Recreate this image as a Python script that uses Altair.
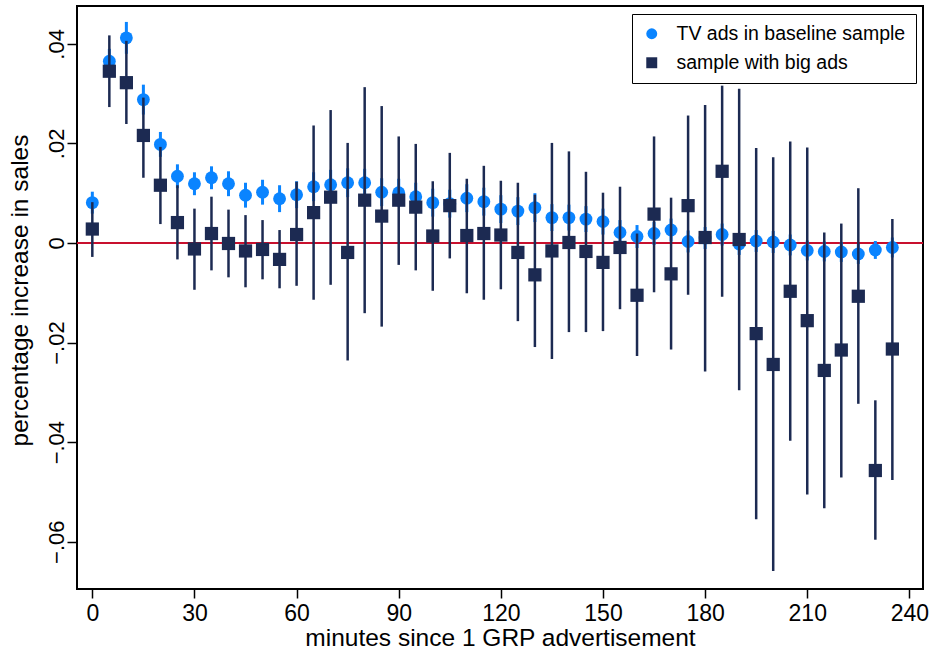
import altair as alt
import pandas as pd

# ---- data ----
minutes = list(range(0, 236, 5))

base_est = [0.0081, 0.0365, 0.0412, 0.0288, 0.0198, 0.0134, 0.0119, 0.0131, 0.0119, 0.0096,
            0.0102, 0.0089, 0.0097, 0.0113, 0.0117, 0.0121, 0.0121, 0.0102, 0.0101, 0.0093,
            0.0081, 0.0079, 0.0090, 0.0083, 0.0068, 0.0064, 0.0071, 0.0051, 0.0051, 0.0048,
            0.0043, 0.0021, 0.0013, 0.0019, 0.0026, 0.0003, 0.0010, 0.0017, -0.0002, 0.0004,
            0.0002, -0.0004, -0.0015, -0.0017, -0.0018, -0.0022, -0.0014, -0.0009]
base_lo = [0.0059, 0.0340, 0.0380, 0.0258, 0.0173, 0.0110, 0.0096, 0.0108, 0.0094, 0.0071,
           0.0077, 0.0062, 0.0070, 0.0084, 0.0087, 0.0092, 0.0093, 0.0074, 0.0073, 0.0065,
           0.0053, 0.0051, 0.0062, 0.0055, 0.0040, 0.0036, 0.0042, 0.0024, 0.0025, 0.0022,
           0.0017, -0.0004, -0.0010, -0.0004, 0.0003, -0.0019, -0.0012, -0.0005, -0.0024, -0.0018,
           -0.0020, -0.0025, -0.0035, -0.0037, -0.0038, -0.0042, -0.0032, -0.0029]
base_hi = [0.0103, 0.0390, 0.0444, 0.0318, 0.0223, 0.0158, 0.0142, 0.0154, 0.0144, 0.0121,
           0.0127, 0.0116, 0.0124, 0.0142, 0.0147, 0.0150, 0.0149, 0.0130, 0.0129, 0.0121,
           0.0109, 0.0107, 0.0118, 0.0111, 0.0096, 0.0092, 0.0100, 0.0078, 0.0077, 0.0074,
           0.0069, 0.0046, 0.0036, 0.0042, 0.0049, 0.0025, 0.0032, 0.0039, 0.0020, 0.0026,
           0.0024, 0.0017, 0.0005, 0.0003, 0.0002, -0.0002, 0.0004, 0.0011]

big_est = [0.0028, 0.0345, 0.0322, 0.0216, 0.0116, 0.0041, -0.0012, 0.0019, -0.0001, -0.0016,
           -0.0013, -0.0033, 0.0017, 0.0061, 0.0092, -0.0019, 0.0086, 0.0054, 0.0086, 0.0072,
           0.0014, 0.0075, 0.0015, 0.0019, 0.0016, -0.0019, -0.0064, -0.0016, 0.0001, -0.0017,
           -0.0039, -0.0009, -0.0105, 0.0058, -0.0062, 0.0075, 0.0011, 0.0144, 0.0007, -0.0182,
           -0.0244, -0.0097, -0.0156, -0.0256, -0.0215, -0.0107, -0.0457, -0.0213]
big_lo = [-0.0028, 0.0273, 0.0239, 0.0131, 0.0038, -0.0033, -0.0094, -0.0055, -0.0069, -0.0089,
          -0.0073, -0.0091, -0.0086, -0.0114, -0.0084, -0.0236, -0.0141, -0.0168, -0.0044, -0.0055,
          -0.0096, -0.0031, -0.0101, -0.0114, -0.0093, -0.0157, -0.0209, -0.0233, -0.0179, -0.0179,
          -0.0177, -0.0133, -0.0227, -0.0099, -0.0214, -0.0104, -0.0258, -0.0108, -0.0296, -0.0555,
          -0.0659, -0.0397, -0.0505, -0.0533, -0.0471, -0.0323, -0.0596, -0.0476]
big_hi = [0.0082, 0.0417, 0.0406, 0.0292, 0.0193, 0.0116, 0.0069, 0.0093, 0.0067, 0.0056,
          0.0046, 0.0026, 0.0123, 0.0236, 0.0267, 0.0201, 0.0313, 0.0275, 0.0214, 0.0199,
          0.0124, 0.0181, 0.0129, 0.0155, 0.0125, 0.0121, 0.0097, 0.0201, 0.0184, 0.0143,
          0.0101, 0.0113, 0.0019, 0.0214, 0.0091, 0.0256, 0.0277, 0.0316, 0.0310, 0.0191,
          0.0172, 0.0204, 0.0192, 0.0021, 0.0039, 0.0110, -0.0316, 0.0048]

series_names = ["TV ads in baseline sample", "sample with big ads"]
series_colors = ["#0a84ff", "#1c2a52"]
series_shapes = ["circle", "square"]

x_ticks = [0, 30, 60, 90, 120, 150, 180, 210, 240]
y_ticks = [-0.06, -0.04, -0.02, 0, 0.02, 0.04]

# ---- tables ----
base_df = pd.DataFrame({"minutes": minutes, "est": base_est, "lo": base_lo,
                        "hi": base_hi, "series": series_names[0]})
big_df = pd.DataFrame({"minutes": minutes, "est": big_est, "lo": big_lo,
                       "hi": big_hi, "series": series_names[1]})
zero_df = pd.DataFrame({"y": [0.0]})

FONT = "Liberation Sans, Arial, Helvetica, sans-serif"

x_scale = alt.Scale(domain=[-4.5, 244.0], nice=False, zero=False)
y_scale = alt.Scale(domain=[-0.0695, 0.0476], nice=False, zero=False)

x_axis = alt.Axis(values=x_ticks, title="minutes since 1 GRP advertisement",
                  grid=False, domain=False, tickSize=9, tickWidth=1.5, tickColor="black",
                  labelFontSize=23, labelFont=FONT, labelColor="black", labelPadding=4,
                  titleFontSize=24.5, titleFont=FONT, titleColor="black",
                  titleFontWeight="normal", titleBaseline="alphabetic", titleY=56)
y_axis = alt.Axis(values=y_ticks, title="percentage increase in sales",
                  labelExpr="datum.value == 0 ? '0' : replace(format(datum.value, '.2f'), '0.', '.')",
                  grid=False, domain=False, tickSize=10, tickWidth=1.5, tickColor="black",
                  labelFontSize=22, labelFont=FONT, labelColor="black", labelPadding=4,
                  labelAngle=270, labelAlign="center", labelBaseline="alphabetic",
                  titleFontSize=24.5, titleFont=FONT, titleColor="black",
                  titleFontWeight="normal", titleAngle=270, titleAlign="center",
                  titleBaseline="alphabetic", titleX=-50, titleY=284)

color_enc = alt.Color("series:N", scale=alt.Scale(domain=series_names, range=series_colors),
                      legend=alt.Legend(title=None, orient="none", legendX=555, legendY=8,
                                        strokeColor="black", fillColor="white", padding=10,
                                        labelFontSize=19.5, labelFont=FONT, labelColor="black",
                                        labelLimit=400,
                                        symbolSize=120, rowPadding=8, labelOffset=15,
                                        symbolStrokeWidth=0, symbolOpacity=1))
shape_enc = alt.Shape("series:N", scale=alt.Scale(domain=series_names, range=series_shapes),
                      legend=alt.Legend(title=None, orient="none", legendX=555, legendY=8,
                                        labelLimit=400))

zero_line = alt.Chart(zero_df).mark_rule(color="#c8102e", strokeWidth=2).encode(
    y=alt.Y("y:Q", scale=y_scale, axis=y_axis))

def bars(df, color, width):
    return alt.Chart(df).mark_rule(color=color, strokeWidth=width).encode(
        x=alt.X("minutes:Q", scale=x_scale, axis=x_axis),
        y=alt.Y("lo:Q", scale=y_scale, axis=y_axis),
        y2="hi:Q")

def points(df, size):
    return alt.Chart(df).mark_point(filled=True, opacity=1, size=size, strokeWidth=0).encode(
        x=alt.X("minutes:Q", scale=x_scale, axis=x_axis),
        y=alt.Y("est:Q", scale=y_scale, axis=y_axis),
        color=color_enc, shape=shape_enc)

chart = alt.layer(
    zero_line,
    bars(base_df, series_colors[0], 3),
    points(base_df, 165),
    bars(big_df, series_colors[1], 2.5),
    points(big_df, 175),
).properties(
    width=846, height=583,
    autosize=alt.AutoSizeParams(type="none"),
    padding={"left": 77, "top": 6, "right": 9, "bottom": 66},
    background="white",
).configure_view(stroke="black", strokeWidth=2)

chart.save("out.html", embed_options={"renderer": "svg", "actions": False})
